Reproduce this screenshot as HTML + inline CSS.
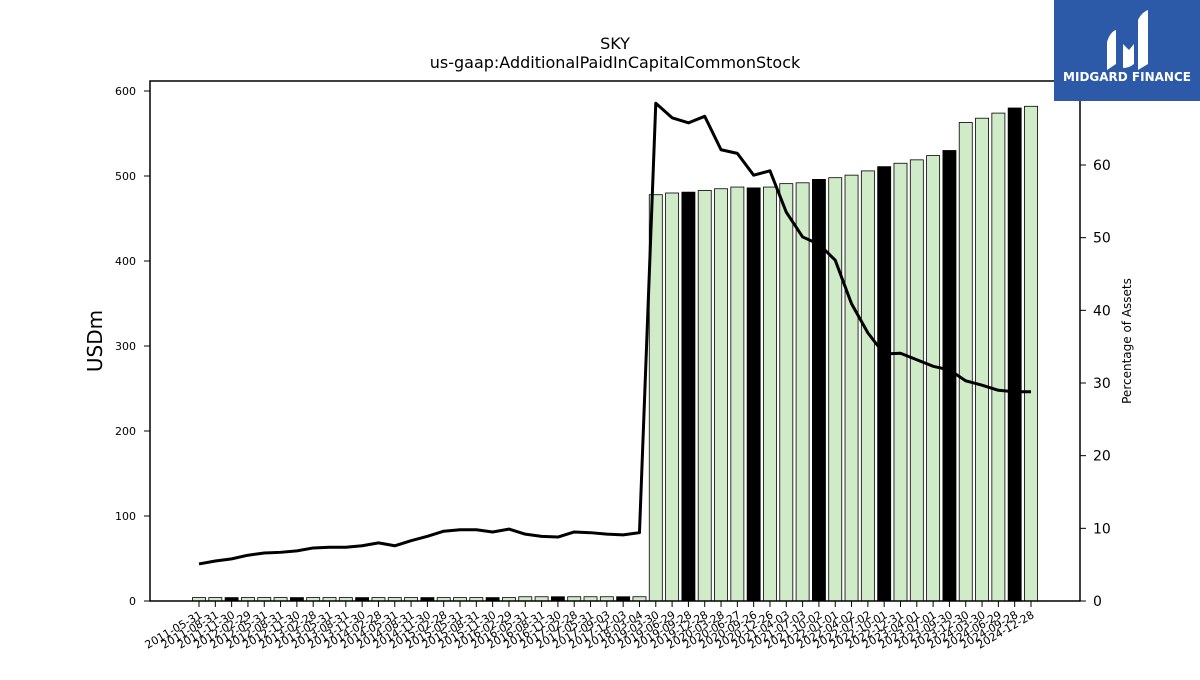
<!DOCTYPE html>
<html><head><meta charset="utf-8"><style>
body{margin:0;background:#fff;font-family:"Liberation Sans","DejaVu Sans",sans-serif}
svg text{font-family:"DejaVu Sans","Liberation Sans",sans-serif}
</style></head><body>
<svg id="chart" width="1200" height="675" xmlns="http://www.w3.org/2000/svg">
<rect width="1200" height="675" fill="#fff"/>
<text x="615" y="49" text-anchor="middle" font-size="16">SKY</text>
<text x="615" y="68" text-anchor="middle" font-size="16">us-gaap:AdditionalPaidInCapitalCommonStock</text>
<g id="bars"></g>
<g id="xticks"></g>
<g id="yticks"></g>
<g id="y2ticks"></g>
<path id="line" fill="none" stroke="#000" stroke-width="3" stroke-linejoin="round"/>
<rect x="150" y="81" width="930" height="520" fill="none" stroke="#000" stroke-width="1.5"/>
<text transform="translate(102,341) rotate(-90)" text-anchor="middle" font-size="20">USDm</text>
<text transform="translate(1131,341) rotate(-90)" text-anchor="middle" font-size="12">Percentage of Assets</text>
<g>
<rect x="1054" y="0" width="146" height="101" fill="#2d5aa8"/>
<path d="M1107 70 L1107 42 Q1110 32 1116 30 L1116 64 Z" fill="#fff"/>
<path d="M1123 68 L1123 44 L1129 50 L1134 44 L1134 64 Q1129 68 1123 68 Z" fill="#fff"/>
<path d="M1138 70 L1138 20 Q1142 12 1148 10 L1148 64 Z" fill="#fff"/>
<text x="1127" y="81" text-anchor="middle" font-size="12" font-weight="bold" fill="#fff">MIDGARD FINANCE</text>
</g>
</svg>
<script>
const labels=["2011-05-31","2011-08-31","2011-11-30","2012-02-29","2012-05-31","2012-08-31","2012-11-30","2013-02-28","2013-05-31","2013-08-31","2013-11-30","2014-02-28","2014-05-31","2014-08-31","2014-11-30","2015-02-28","2015-05-31","2015-08-31","2015-11-30","2016-02-29","2016-05-31","2016-08-31","2016-11-30","2017-02-28","2017-05-31","2017-09-03","2017-12-03","2018-03-04","2019-03-30","2019-06-29","2019-09-28","2019-12-28","2020-03-28","2020-06-27","2020-09-26","2020-12-26","2021-04-03","2021-07-03","2021-10-02","2022-01-01","2022-04-02","2022-07-02","2022-10-01","2022-12-31","2023-04-01","2023-07-01","2023-09-30","2023-12-30","2024-03-30","2024-06-29","2024-09-28","2024-12-28"];
const values=[4,4,4,4,4,4,4,4,4,4,4,4,4,4,4,4,4,4,4,4,5,5,5,5,5,5,5,5,478,480,481,483,485,487,486,487,491,492,496,498,501,506,511,515,519,524,530,563,568,574,580,582];
const pct=[5.1,5.5,5.8,6.3,6.6,6.7,6.9,7.3,7.4,7.4,7.6,8.0,7.6,8.3,8.9,9.6,9.8,9.8,9.5,9.9,9.2,8.9,8.8,9.5,9.4,9.2,9.1,9.4,68.5,66.5,65.8,66.7,62.1,61.6,58.6,59.2,53.5,50.1,49.1,46.9,40.9,36.9,34.0,34.1,33.2,32.3,31.8,30.3,29.7,29.0,28.8,28.8];
const yTicks=[0,100,200,300,400,500,600];
const y2Ticks=[0,10,20,30,40,50,60];
const NS="http://www.w3.org/2000/svg";
const x0=199,x1=1031,yTop=81,bot=601;
const xs=i=>x0+(x1-x0)*i/(labels.length-1);
const y=v=>bot-v*(510/600);
const y2=v=>bot-v*(436/60);
function mk(t,a,p){const e=document.createElementNS(NS,t);for(const k in a)e.setAttribute(k,a[k]);p.appendChild(e);return e;}
const bw=(x1-x0)/(labels.length-1)*0.8;
const gb=document.getElementById('bars'),gx=document.getElementById('xticks');
values.forEach((v,i)=>{
 const r=mk('rect',{x:xs(i)-bw/2,y:y(v),width:bw,height:bot-y(v),fill:i%4==2?'#000':'#d0ebc8',stroke:'#000','stroke-width':0.8},gb);
 
 
 mk('line',{x1:xs(i),x2:xs(i),y1:bot,y2:bot+6,stroke:'#000'},gx);
 const t=mk('text',{x:xs(i)+4,y:bot+16,'text-anchor':'end','font-size':11,transform:`rotate(-30 ${xs(i)+4} ${bot+16})`},gx);
 t.textContent=labels[i];
 
 
});
const gy=document.getElementById('yticks');
yTicks.forEach(v=>{mk('line',{x1:144,x2:150,y1:y(v),y2:y(v),stroke:'#000'},gy);
 const t=mk('text',{x:136,y:y(v)+4,'text-anchor':'end','font-size':11},gy);t.textContent=v;
 
 });
const gy2=document.getElementById('y2ticks');
y2Ticks.forEach(v=>{mk('line',{x1:1080,x2:1086,y1:y2(v),y2:y2(v),stroke:'#000'},gy2);
 const t=mk('text',{x:1093,y:y2(v)+5,'font-size':14},gy2);t.textContent=v;
 
 });
document.getElementById('line').setAttribute('d',pct.map((p,i)=>(i?'L':'M')+xs(i)+' '+y2(p)).join(' '));
</script>
</body></html>
